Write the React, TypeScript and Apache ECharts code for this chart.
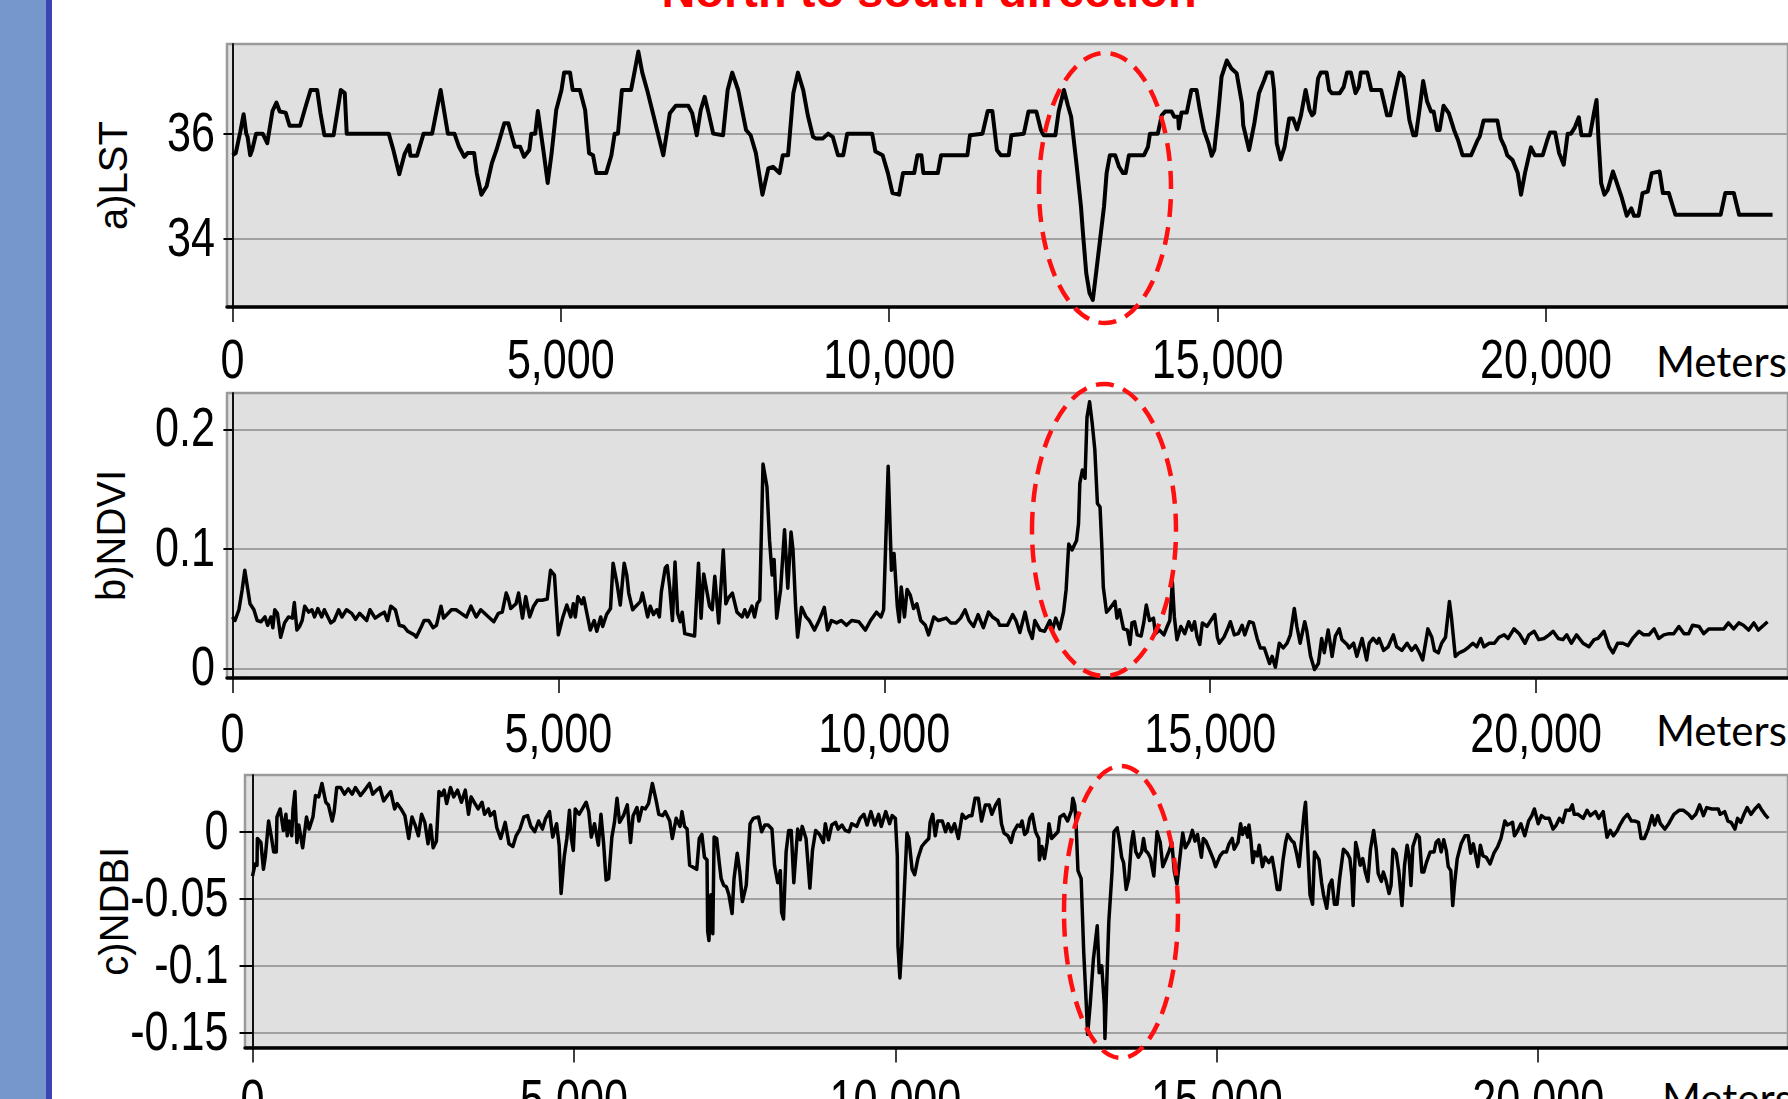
import React, { useEffect, useRef } from "react";
import * as echarts from "echarts";

// ---------- data (distance in meters, value) ----------
const xTicks = [0, 5000, 10000, 15000, 20000];
const lstTicks = [34, 36];
const ndviTicks = [0, 0.1, 0.2];
const ndbiTicks = [0, -0.05, -0.1, -0.15];

const lstData: [number, number][] = [
  [0,35.59],[50,35.63],[120,36.04],[170,36.37],[210,36.0],[230,35.94],[270,35.59],[300,35.69],[360,36.0],[460,36.0],[530,35.82],[610,36.43],[670,36.59],[720,36.42],[810,36.4],[870,36.15],[1030,36.15],[1120,36.54],[1190,36.83],[1290,36.83],[1340,36.39],[1400,35.97],[1540,35.97],[1650,36.83],[1710,36.77],[1740,36.0],[2380,36.0],[2450,35.69],[2540,35.23],[2620,35.61],[2690,35.78],[2710,35.58],[2810,35.58],[2910,36.0],[3040,36.0],[3170,36.83],[3280,36.0],[3380,36.0],[3450,35.75],[3530,35.56],[3580,35.63],[3680,35.63],[3720,35.25],[3790,34.84],[3870,35.0],[3950,35.44],[4020,35.69],[4140,36.2],[4200,36.2],[4250,35.97],[4300,35.75],[4380,35.75],[4440,35.56],[4520,35.69],[4550,36.0],[4610,36.0],[4650,36.43],[4740,35.63],[4800,35.06],[4860,35.63],[4930,36.45],[5010,36.83],[5050,37.16],[5140,37.16],[5180,36.83],[5290,36.83],[5370,36.45],[5430,35.63],[5490,35.59],[5540,35.25],[5690,35.25],[5770,35.59],[5820,36.0],[5870,36.0],[5930,36.83],[6070,36.83],[6120,37.16],[6180,37.56],[6240,37.16],[6320,36.8],[6410,36.35],[6490,35.94],[6560,35.59],[6660,36.39],[6750,36.53],[6940,36.53],[7000,36.39],[7070,35.97],[7130,36.45],[7190,36.7],[7250,36.39],[7320,36.0],[7470,35.97],[7540,36.83],[7610,37.16],[7700,36.83],[7820,36.07],[7890,35.97],[7970,35.63],[8070,34.84],[8160,35.34],[8230,35.37],[8330,35.25],[8380,35.59],[8460,35.59],[8540,36.77],[8610,37.16],[8690,36.83],[8760,36.35],[8840,35.94],[8880,35.91],[8990,35.91],[9070,36.0],[9140,35.94],[9220,35.59],[9300,35.59],[9360,36.0],[9740,36.0],[9790,35.66],[9900,35.59],[9980,35.25],[10050,34.87],[10150,34.84],[10210,35.25],[10380,35.25],[10430,35.59],[10490,35.59],[10520,35.25],[10740,35.25],[10790,35.59],[11190,35.59],[11230,35.97],[11420,36.0],[11500,36.43],[11570,36.43],[11640,35.69],[11700,35.59],
  [11820,35.59],[11860,35.97],[12050,36.0],[12120,36.42],[12240,36.42],[12310,36.07],[12350,35.97],[12530,35.97],[12580,36.42],[12660,36.83],[12720,36.54],[12770,36.32],[12850,35.44],[12920,34.61],[12950,34.11],[13000,33.35],[13050,32.97],[13100,32.84],[13150,33.35],[13210,33.98],[13270,34.61],[13310,35.25],[13360,35.59],[13440,35.59],[13500,35.37],[13560,35.25],[13600,35.25],[13650,35.59],[13880,35.59],[13940,35.75],[13970,36.0],[14090,36.0],[14150,36.35],[14200,36.42],[14300,36.42],[14340,36.32],[14400,36.32],[14410,36.1],[14450,36.4],[14530,36.4],[14600,36.83],[14680,36.83],[14730,36.45],[14790,36.07],[14860,35.82],[14910,35.58],[14950,35.69],[15010,36.39],[15060,37.08],[15140,37.39],[15210,37.24],[15290,37.15],[15370,36.58],[15390,36.16],[15480,35.69],[15560,36.2],[15630,36.77],[15710,37.02],[15750,37.16],[15830,37.16],[15860,36.83],[15900,35.82],[15960,35.51],[16020,35.75],[16090,36.29],[16150,36.29],[16210,36.08],[16270,36.35],[16340,36.83],[16400,36.45],[16440,36.35],[16470,36.39],[16530,37.05],[16570,37.16],[16660,37.16],[16700,36.83],[16740,36.77],[16860,36.77],[16920,36.89],[16970,37.16],[17030,37.16],[17100,36.77],[17150,36.89],[17180,37.16],[17280,37.16],[17340,36.83],[17490,36.83],[17580,36.35],[17630,36.35],[17700,36.77],[17770,37.16],[17830,37.08],[17860,36.83],[17920,36.26],[17980,35.97],[18020,35.97],[18080,36.51],[18130,37.0],[18190,36.61],[18250,36.42],[18290,36.42],[18340,36.07],[18380,36.07],[18440,36.53],[18520,36.39],[18600,36.07],[18660,35.88],[18730,35.59],[18860,35.59],[18960,35.88],[18990,35.94],[19050,36.25],[19260,36.25],[19310,35.91],[19370,35.75],[19410,35.59],[19490,35.5],[19570,35.25],[19620,34.84],[19680,35.25],[19770,35.74],[19830,35.59],[19950,35.59],[20020,35.88],[20060,36.02],[20140,36.02],[20200,35.63],[20270,35.41],[20330,36.0],[20380,36.0],[20440,36.12],[20500,36.31],[20540,35.97],[20670,35.97],[20730,36.39],[20770,36.64],[20800,35.88],[20840,35.06],[20890,34.84],[20940,34.93],[21020,35.28],[21080,35.06],[21150,34.8],[21230,34.44],[21300,34.58],[21340,34.44],[21410,34.44],[21470,34.87],[21550,34.9],[21610,35.25],[21730,35.28],[21780,34.87],[21870,34.87],[21970,34.46],[22660,34.46],[22730,34.87],[22860,34.87],[22940,34.46],[23450,34.46]
];

const ndviData: [number, number][] = [
  [0,0.043],[40,0.040],[100,0.049],[150,0.066],[190,0.082],[230,0.068],[270,0.054],[330,0.049],[380,0.040],[440,0.039],[500,0.043],[540,0.036],[590,0.043],[620,0.034],[650,0.049],[690,0.046],[740,0.026],[800,0.038],[860,0.043],[920,0.042],[950,0.055],[990,0.032],[1030,0.035],[1070,0.040],[1110,0.052],[1170,0.047],[1220,0.049],[1260,0.043],[1310,0.050],[1370,0.043],[1410,0.049],[1510,0.038],[1560,0.040],[1630,0.049],[1680,0.043],[1750,0.049],[1830,0.046],[1890,0.041],[1950,0.046],[2060,0.040],[2110,0.049],[2190,0.042],[2270,0.045],[2330,0.047],[2380,0.040],[2430,0.052],[2500,0.049],[2560,0.036],[2630,0.035],[2690,0.031],[2790,0.028],[2820,0.026],[2900,0.035],[2940,0.040],[3010,0.040],[3080,0.034],[3130,0.036],[3200,0.052],[3240,0.042],[3360,0.049],[3430,0.049],[3510,0.046],[3590,0.043],[3660,0.052],[3740,0.043],[3810,0.049],[3930,0.043],[4010,0.039],[4080,0.046],[4140,0.047],[4200,0.063],[4230,0.059],[4270,0.050],[4350,0.054],[4390,0.063],[4450,0.042],[4500,0.060],[4560,0.043],[4620,0.052],[4680,0.057],[4750,0.057],[4830,0.058],[4880,0.082],[4940,0.078],[5000,0.028],[5070,0.043],[5130,0.053],[5190,0.043],[5230,0.054],[5260,0.043],[5300,0.060],[5360,0.054],[5390,0.059],[5490,0.032],[5550,0.040],[5590,0.031],[5650,0.043],[5680,0.035],[5740,0.045],[5800,0.050],[5840,0.088],[5900,0.071],[5950,0.053],[6010,0.088],[6050,0.078],[6080,0.063],[6140,0.049],[6190,0.052],[6260,0.056],[6290,0.063],[6330,0.053],[6370,0.043],[6410,0.052],[6460,0.045],[6510,0.049],[6550,0.043],[6580,0.064],[6640,0.084],[6670,0.086],[6710,0.067],[6750,0.040],[6790,0.089],[6830,0.046],[6870,0.039],[6900,0.047],[6940,0.029],[7090,0.027],[7150,0.088],[7190,0.042],[7230,0.079],[7270,0.067],[7320,0.052],[7360,0.049],[7400,0.077],[7460,0.038],[7530,0.099],[7570,0.054],[7610,0.059],[7670,0.063],[7740,0.047],[7820,0.043],[7860,0.049],[7900,0.043],[7970,0.052],[8010,0.043],[8050,0.054],[8090,0.057],[8140,0.171],[8200,0.152],[8240,0.107],[8280,0.078],[8310,0.091],[8350,0.042],[8410,0.066],[8470,0.116],[8520,0.067],[8570,0.114],[8600,0.099],[8640,0.052],[8670,0.026],[8730,0.051],[8800,0.043],[8850,0.040],[8930,0.032],[9000,0.040],[9080,0.051],[9130,0.032],[9190,0.040],[9270,0.038],[9340,0.040],[9420,0.036],[9500,0.040],[9610,0.039],[9710,0.032],[9790,0.040],[9880,0.047],[9950,0.043],[9990,0.049],[10060,0.169],[10110,0.082],[10150,0.096],[10200,0.052],[10230,0.039],[10260,0.068],[10310,0.043],[10350,0.066],[10400,0.061],[10450,0.050],[10500,0.054],[10560,0.040],[10630,0.036],[10680,0.028],[10760,0.043],[10830,0.040],[10950,0.042],[11020,0.038],[11100,0.038],[11170,0.042],[11240,0.049],[11300,0.040],[11370,0.035],[11440,0.045],[11520,0.034],
  [11600,0.047],[11660,0.043],[11740,0.040],[11770,0.036],[11890,0.036],[11970,0.045],[12020,0.040],[12080,0.030],[12160,0.047],[12220,0.032],[12270,0.025],[12310,0.040],[12390,0.032],[12460,0.031],[12540,0.040],[12580,0.032],[12630,0.042],[12690,0.033],[12750,0.047],[12790,0.066],[12830,0.104],[12880,0.099],[12950,0.107],[12980,0.121],[13000,0.155],[13040,0.166],[13080,0.159],[13110,0.210],[13150,0.223],[13190,0.205],[13230,0.183],[13270,0.138],[13310,0.135],[13340,0.099],[13360,0.068],[13410,0.047],[13460,0.050],[13540,0.056],[13570,0.042],[13610,0.049],[13670,0.033],[13730,0.032],[13770,0.020],[13800,0.038],[13840,0.039],[13880,0.028],[13940,0.027],[13980,0.038],[14020,0.053],[14070,0.040],[14130,0.042],[14160,0.029],[14220,0.032],[14290,0.028],[14340,0.035],[14380,0.040],[14420,0.072],[14450,0.043],[14490,0.024],[14550,0.035],[14610,0.029],[14670,0.039],[14720,0.032],[14760,0.039],[14800,0.026],[14840,0.020],[14880,0.038],[14950,0.035],[15010,0.040],[15070,0.045],[15110,0.026],[15140,0.021],[15210,0.026],[15260,0.032],[15310,0.039],[15370,0.028],[15430,0.029],[15490,0.036],[15530,0.028],[15600,0.039],[15660,0.038],[15720,0.025],[15770,0.017],[15830,0.017],[15910,0.004],[15950,0.010],[16000,0.001],[16060,0.021],[16120,0.017],[16180,0.021],[16230,0.028],[16290,0.050],[16330,0.035],[16380,0.021],[16450,0.039],[16480,0.032],[16540,0.010],[16600,-0.001],[16660,0.004],[16710,0.025],[16750,0.013],[16810,0.032],[16870,0.010],[16920,0.027],[16980,0.033],[17020,0.024],[17100,0.020],[17130,0.017],[17200,0.021],[17250,0.010],[17330,0.025],[17400,0.007],[17440,0.021],[17500,0.025],[17560,0.021],[17590,0.025],[17660,0.015],[17730,0.018],[17810,0.028],[17860,0.018],[17940,0.015],[18020,0.021],[18090,0.015],[18150,0.019],[18210,0.013],[18260,0.007],[18340,0.033],[18400,0.026],[18440,0.015],[18500,0.013],[18550,0.021],[18610,0.026],[18670,0.056],[18700,0.043],[18760,0.010],[18820,0.013],[18900,0.015],[18970,0.018],[19030,0.021],[19090,0.018],[19150,0.025],[19200,0.018],[19280,0.021],[19360,0.021],[19430,0.026],[19510,0.028],[19570,0.025],[19660,0.033],[19740,0.029],[19830,0.021],[19890,0.028],[19970,0.031],[20040,0.024],[20120,0.025],[20200,0.028],[20260,0.031],[20340,0.025],[20410,0.024],[20470,0.028],[20540,0.021],[20620,0.028],[20720,0.021],[20810,0.018],[20890,0.024],[20950,0.025],[21040,0.031],[21120,0.018],[21180,0.013],[21250,0.021],[21330,0.021],[21410,0.019],[21480,0.025],[21580,0.031],[21650,0.028],[21730,0.028],[21810,0.033],[21880,0.025],[21960,0.028],[22040,0.029],[22110,0.029],[22190,0.035],[22270,0.029],[22340,0.029],[22400,0.036],[22500,0.035],[22570,0.029],[22650,0.033],[22730,0.033],[22800,0.033],[22880,0.033],[22950,0.038],[23030,0.033],[23110,0.038],[23180,0.036],[23260,0.032],[23340,0.038],[23410,0.032],[23550,0.039]
];

const ndbiData: [number, number][] = [
  [0,-0.033],[40,-0.024],[70,-0.025],[75,-0.005],[130,-0.008],[170,-0.028],[200,-0.018],[250,0.008],[290,-0.003],[330,-0.015],[370,-0.015],[380,0.011],[430,0.017],[480,0.001],[520,0.013],[540,-0.003],[570,0.008],[610,-0.003],[630,0.017],[660,0.030],[690,-0.008],[720,0.005],[780,-0.012],[840,0.011],[880,0.002],[940,0.011],[980,0.027],[1030,0.026],[1080,0.036],[1140,0.022],[1180,0.020],[1240,0.008],[1270,0.015],[1310,0.033],[1370,0.033],[1430,0.028],[1490,0.032],[1550,0.028],[1600,0.033],[1680,0.027],[1760,0.032],[1820,0.036],[1870,0.028],[1930,0.031],[1980,0.033],[2040,0.023],[2100,0.027],[2150,0.030],[2210,0.017],[2250,0.021],[2310,0.017],[2370,0.012],[2430,-0.005],[2480,0.011],[2530,0.005],[2580,-0.003],[2630,0.013],[2680,0.007],[2730,-0.009],[2770,0.005],[2810,-0.012],[2860,-0.007],[2900,0.030],[2940,0.027],[2980,0.031],[3020,0.021],[3080,0.033],[3130,0.026],[3190,0.031],[3250,0.022],[3310,0.031],[3360,0.013],[3400,0.026],[3460,0.021],[3510,0.017],[3570,0.022],[3610,0.013],[3670,0.017],[3700,0.012],[3760,0.015],[3800,0.003],[3860,-0.005],[3930,0.007],[3990,-0.009],[4050,-0.011],[4100,-0.003],[4160,0.002],[4220,0.011],[4280,0.012],[4330,0.004],[4390,0.000],[4450,0.008],[4510,0.002],[4560,0.010],[4620,0.015],[4670,-0.004],[4730,0.006],[4770,-0.010],[4800,-0.046],[4850,-0.018],[4890,-0.005],[4930,0.016],[4960,-0.005],[4990,-0.014],[5020,0.017],[5080,0.013],[5130,0.017],[5190,0.022],[5230,0.015],[5270,-0.004],[5320,0.006],[5380,-0.010],[5420,0.013],[5460,-0.008],[5500,-0.036],[5540,-0.035],[5590,-0.004],[5630,0.007],[5670,0.025],[5710,0.007],[5770,0.012],[5830,0.020],[5880,-0.008],[5920,0.012],[5980,0.018],[6010,0.008],[6060,0.018],[6110,0.017],[6160,0.021],[6220,0.036],[6280,0.023],[6320,0.013],[6380,0.012],[6420,0.015],[6490,0.008],[6530,-0.005],[6590,0.010],[6650,0.004],[6680,0.015],[6720,0.004],[6760,0.002],[6800,-0.025],[6840,-0.026],[6910,-0.028],[6950,-0.005],[6990,-0.002],[7030,-0.019],[7070,-0.021],[7080,-0.074],[7100,-0.081],[7130,-0.047],[7160,-0.076],[7180,-0.004],[7220,-0.005],[7260,-0.023],[7290,-0.035],[7330,-0.040],[7370,-0.041],[7410,-0.047],[7460,-0.061],[7490,-0.035],[7540,-0.016],[7580,-0.030],[7620,-0.052],[7680,-0.040],[7740,0.006],[7790,0.010],[7870,0.011],[7920,0.000],[7970,0.005],[8020,0.005],[8080,0.002],[8120,-0.025],[8170,-0.038],[8210,-0.029],[8230,-0.060],[8260,-0.065],[8300,-0.015],[8340,0.001],[8380,0.001],[8420,-0.038],[8480,0.002],[8520,-0.006],[8550,0.004],[8610,-0.005],[8670,-0.042],[8710,-0.014],[8760,0.001],[8820,-0.002],[8880,-0.008],[8910,0.006],[8960,-0.006],[9010,0.005],[9070,0.007],[9110,0.002],[9170,0.005],[9220,0.001],[9280,0.000],[9320,0.006],[9400,0.004],[9450,0.010],[9510,0.013],[9560,0.005],[9620,0.015],[9680,0.005],[9740,0.013],[9780,0.004],[9850,0.015],[9910,0.006],[9950,0.012],[10000,0.010],[10030,-0.018],[10040,-0.085],[10070,-0.109],[10100,-0.085],[10140,-0.043],[10180,-0.001],[10210,-0.005],[10260,-0.028],[10300,-0.032],[10350,-0.020],[10410,-0.011],[10460,-0.008],[10520,-0.005],[10540,0.007],[10580,0.013],[10620,-0.003],[10660,0.008],[10730,0.008],[10780,0.000],[10820,0.006],[10870,0.000],[10920,0.006],[10980,-0.005],[11040,0.013],[11090,0.010],[11150,0.012],[11190,0.012],[11240,0.025],[11290,0.025],[11340,0.008],[11400,0.020],[11460,0.020],[11500,0.013],[11560,0.020],[11610,0.024],[11650,0.006],[11690,-0.001],[11750,-0.003],
  [11800,-0.008],[11840,0.000],[11900,0.005],[11940,0.004],[11970,0.008],[12010,-0.002],[12050,0.000],[12090,0.010],[12130,0.013],[12180,0.000],[12230,-0.005],[12240,-0.021],[12280,-0.011],[12320,-0.020],[12360,-0.008],[12390,0.006],[12430,-0.005],[12490,-0.002],[12530,0.000],[12560,0.011],[12620,0.013],[12680,0.008],[12740,0.016],[12760,0.025],[12790,0.020],[12810,0.007],[12840,-0.029],[12890,-0.035],[12930,-0.090],[12970,-0.129],[12990,-0.151],[13030,-0.129],[13080,-0.095],[13140,-0.070],[13170,-0.105],[13210,-0.100],[13250,-0.129],[13260,-0.154],[13290,-0.110],[13320,-0.067],[13370,-0.030],[13400,0.000],[13450,0.003],[13480,-0.005],[13520,-0.019],[13550,-0.023],[13590,-0.043],[13630,-0.035],[13670,-0.009],[13700,0.000],[13740,-0.015],[13780,-0.019],[13830,-0.015],[13860,-0.005],[13890,-0.014],[13930,-0.016],[13970,-0.020],[14020,-0.033],[14070,0.000],[14120,-0.008],[14160,-0.026],[14220,-0.019],[14260,-0.014],[14300,-0.008],[14340,-0.030],[14380,-0.039],[14440,-0.013],[14470,-0.001],[14510,-0.012],[14570,-0.007],[14620,0.001],[14660,-0.007],[14700,-0.002],[14760,-0.019],[14790,-0.005],[14830,-0.007],[14890,-0.014],[14950,-0.021],[14980,-0.026],[15050,-0.018],[15100,-0.015],[15150,-0.015],[15190,-0.009],[15240,-0.005],[15270,-0.013],[15330,-0.008],[15370,0.006],[15400,-0.002],[15440,0.003],[15480,-0.004],[15500,0.005],[15530,-0.006],[15560,-0.023],[15590,-0.015],[15630,-0.018],[15660,-0.010],[15710,-0.026],[15750,-0.019],[15810,-0.023],[15860,-0.019],[15900,-0.030],[15940,-0.043],[15980,-0.043],[16030,-0.021],[16070,-0.008],[16100,-0.002],[16170,-0.007],[16200,-0.008],[16240,-0.016],[16280,-0.026],[16320,-0.005],[16360,0.015],[16380,0.022],[16410,-0.008],[16450,-0.047],[16490,-0.054],[16520,-0.015],[16590,-0.021],[16630,-0.038],[16660,-0.047],[16710,-0.057],[16750,-0.040],[16790,-0.036],[16830,-0.054],[16870,-0.054],[16910,-0.035],[16970,-0.013],[17030,-0.016],[17070,-0.020],[17100,-0.033],[17120,-0.055],[17160,-0.008],[17190,-0.014],[17230,-0.025],[17270,-0.020],[17310,-0.030],[17350,-0.037],[17390,-0.013],[17440,0.001],[17480,-0.013],[17510,-0.031],[17560,-0.037],[17590,-0.030],[17630,-0.036],[17680,-0.046],[17710,-0.040],[17740,-0.013],[17790,-0.016],[17830,-0.029],[17880,-0.055],[17920,-0.025],[17960,-0.010],[17990,-0.018],[18020,-0.040],[18050,-0.011],[18110,-0.002],[18150,-0.004],[18190,-0.030],[18220,-0.030],[18260,-0.023],[18320,-0.015],[18380,-0.015],[18410,-0.008],[18450,-0.006],[18490,-0.015],[18530,-0.006],[18570,-0.014],[18600,-0.026],[18640,-0.029],[18670,-0.055],[18700,-0.038],[18740,-0.020],[18800,-0.009],[18860,-0.003],[18910,-0.003],[18950,-0.016],[18990,-0.009],[19020,-0.016],[19060,-0.026],[19100,-0.010],[19140,-0.018],[19190,-0.019],[19250,-0.024],[19310,-0.016],[19370,-0.011],[19420,-0.005],[19480,0.008],[19520,0.005],[19560,0.006],[19600,0.007],[19630,-0.003],[19670,0.000],[19730,0.006],[19790,-0.003],[19850,0.008],[19900,0.012],[19940,0.017],[20000,0.006],[20050,0.012],[20110,0.010],[20170,0.010],[20230,0.002],[20280,0.005],[20330,0.010],[20380,0.007],[20430,0.016],[20490,0.016],[20530,0.020],[20560,0.013],[20620,0.013],[20700,0.010],[20760,0.016],[20810,0.012],[20890,0.015],[20940,0.010],[21010,0.015],[21070,-0.004],[21120,0.001],[21170,-0.003],[21230,0.001],[21270,0.005],[21330,0.010],[21390,0.013],[21450,0.008],[21500,0.008],[21560,0.007],[21600,-0.005],[21650,-0.005],[21710,0.002],[21770,0.012],[21810,0.005],[21860,0.012],[21900,0.006],[21970,0.002],[22030,0.006],[22110,0.013],[22190,0.016],[22260,0.016],[22340,0.013],[22390,0.010],[22450,0.013],[22510,0.020],[22570,0.012],[22620,0.018],[22700,0.017],[22800,0.017],[22830,0.013],[22900,0.015],[22950,0.008],[23000,0.007],[23060,0.002],[23100,0.010],[23150,0.007],[23200,0.013],[23250,0.018],[23310,0.013],[23370,0.017],[23430,0.020],[23480,0.016],[23540,0.012],[23580,0.010]
];

const panelNames = ["a)LST", "b)NDVI", "c)NDBI"];
const titleText = "North to south direction";
const unitText = "Meters";

// ---------- styling / layout ----------
const SANS = "'Liberation Sans', Arial, sans-serif";
const HUMAN = "Lato, 'Open Sans', sans-serif";
const LABEL_SIZE = 56;
const LABEL_SCALE = 0.77; // condensed look of the original tick font

const panels = [
  { left: 227, top: 44, width: 1581, height: 263, xMin: -83, xMax: 23685, yMin: 32.705, yMax: 37.704, ticks: lstTicks, data: lstData, lineWidth: 4, nameGap: 94, labelMargin: 12, tickLen: 9, xLabelOffset: 51.5, unitX: 1656, unitOffset: 54 },
  { left: 227, top: 393, width: 1581, height: 285, xMin: -83, xMax: 23864, yMin: -0.0081, yMax: 0.2304, ticks: ndviTicks, data: ndviData, lineWidth: 3.5, nameGap: 96, labelMargin: 12, tickLen: 9, xLabelOffset: 54.5, unitX: 1656, unitOffset: 52 },
  { left: 245, top: 775, width: 1563, height: 272.5, xMin: -117, xMax: 23885, yMin: -0.1608, yMax: 0.0423, ticks: ndbiTicks, data: ndbiData, lineWidth: 3.5, nameGap: 111, labelMargin: 16.5, tickLen: 13, xLabelOffset: 51, unitX: 1662, unitOffset: 50 },
];

const fmtThousands = (v: number) => String(Math.round(v)).replace(/\B(?=(\d{3})+(?!\d))/g, ",");

function baseGraphic() {
  const dash = { fill: "none", stroke: "#ff1010", lineWidth: 4.5, lineDash: [18, 10] };
  return [
    { type: "rect", z: 100, shape: { x: 0, y: 0, width: 46, height: 1099 }, style: { fill: "#7597cc" } },
    { type: "rect", z: 100, shape: { x: 46, y: 0, width: 6, height: 1099 }, style: { fill: "#3c43b2" } },
    { type: "text", z: 100, x: 929, y: 14, style: { text: titleText, fill: "#ff0000", fontFamily: SANS, fontWeight: "bold", fontSize: 47, align: "center", verticalAlign: "bottom" } },
    { type: "ellipse", z: 100, shape: { cx: 1105, cy: 188, rx: 66, ry: 135 }, style: dash },
    { type: "ellipse", z: 100, shape: { cx: 1104, cy: 530, rx: 72, ry: 146 }, style: dash },
    { type: "ellipse", z: 100, shape: { cx: 1121, cy: 912, rx: 57, ry: 146 }, style: dash },
  ];
}

function buildOption() {
  const grid = panels.map((p) => ({
    left: p.left, top: p.top, width: p.width, height: p.height,
    show: true, backgroundColor: "#e0e0e0", borderColor: "#9a9a9a", borderWidth: 2.5,
  }));
  const xAxis = panels.map((p, i) => ({
    type: "value", gridIndex: i, min: p.xMin, max: p.xMax,
    axisLine: { show: true, onZero: false, lineStyle: { color: "#000", width: 3.5 } },
    axisTick: { show: true, customValues: xTicks, length: 15, lineStyle: { color: "#000", width: 1.5 } },
    axisLabel: { show: false, customValues: xTicks },
    splitLine: { show: false },
  }));
  const yAxis = panels.map((p, i) => ({
    type: "value", gridIndex: i, min: p.yMin, max: p.yMax,
    name: panelNames[i], nameLocation: "middle", nameRotate: 90, nameGap: p.nameGap, nameMoveOverlap: false,
    nameTextStyle: { fontFamily: SANS, fontSize: 40, color: "#000" },
    axisLine: { show: true, lineStyle: { color: "#111", width: 2 } },
    axisTick: { show: true, customValues: p.ticks, length: p.tickLen, lineStyle: { color: "#000", width: 2 } },
    axisLabel: { show: false, customValues: p.ticks },
    splitLine: { show: true, lineStyle: { color: "#a0a0a0", width: 2 } },
  }));
  const series = panels.map((p, i) => ({
    type: "line", xAxisIndex: i, yAxisIndex: i, data: p.data,
    showSymbol: false, symbol: "none", silent: true,
    lineStyle: { color: "#000", width: p.lineWidth, join: "round" },
  }));
  return { animation: false, backgroundColor: "#ffffff", grid, xAxis, yAxis, series, graphic: baseGraphic() };
}

// tick labels placed through the axes' own scales (convertToPixel), drawn condensed
function labelGraphic(chart: any) {
  const out: any[] = [];
  const labelStyle = { fill: "#000", fontFamily: SANS, fontSize: LABEL_SIZE };
  panels.forEach((p, i) => {
    xTicks.forEach((v) => {
      const pt = chart.convertToPixel({ gridIndex: i }, [v, p.yMin]);
      out.push({ type: "text", z: 100, x: pt[0], y: pt[1] + p.xLabelOffset, scaleX: LABEL_SCALE,
        style: { ...labelStyle, text: fmtThousands(v), align: "center", verticalAlign: "middle" } });
    });
    p.ticks.forEach((v) => {
      const pt = chart.convertToPixel({ gridIndex: i }, [p.xMin, v]);
      out.push({ type: "text", z: 100, x: pt[0] - p.labelMargin, y: pt[1] - 2, scaleX: LABEL_SCALE,
        style: { ...labelStyle, text: String(v), align: "right", verticalAlign: "middle" } });
    });
    const base = chart.convertToPixel({ gridIndex: i }, [p.xMin, p.yMin]);
    out.push({ type: "text", z: 100, x: p.unitX, y: base[1] + p.unitOffset,
      style: { text: unitText, fill: "#000", fontFamily: HUMAN, fontSize: 42, align: "left", verticalAlign: "middle" } });
  });
  return out;
}

export default function App() {
  const ref = useRef<HTMLDivElement>(null);
  useEffect(() => {
    if (!ref.current) return;
    const chart = echarts.init(ref.current, null, { renderer: "svg" });
    chart.setOption(buildOption() as any);
    chart.setOption({ graphic: [...baseGraphic(), ...labelGraphic(chart)] } as any);
    return () => chart.dispose();
  }, []);
  return (
    <div style={{ position: "fixed", left: 0, top: 0, width: 1788, height: 1099, overflow: "hidden", background: "#fff" }}>
      <div ref={ref} style={{ width: 1788, height: 1099 }} />
    </div>
  );
}
